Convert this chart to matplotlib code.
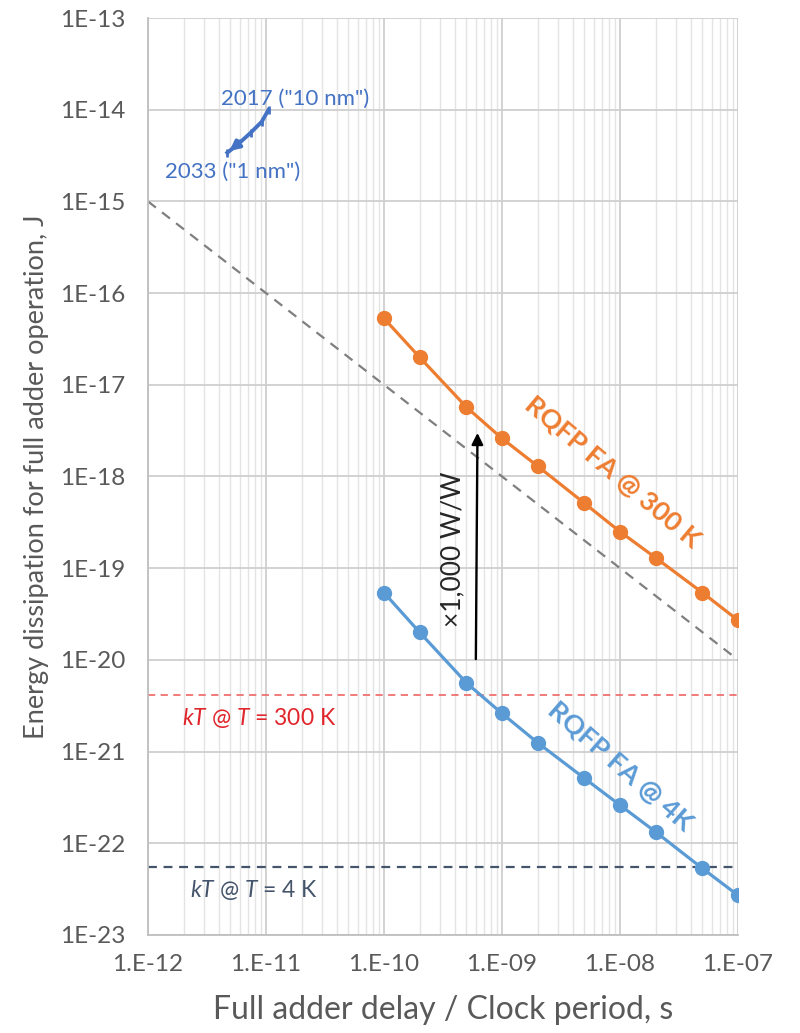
import numpy as np
import matplotlib.pyplot as plt
from matplotlib.ticker import LogLocator, FixedLocator

plt.rcParams['font.family'] = ['Lato', 'DejaVu Sans']
plt.rcParams['mathtext.fontset'] = 'custom'
plt.rcParams['mathtext.rm'] = 'Lato'
plt.rcParams['mathtext.it'] = 'Lato:italic'

# full adder delay / clock period (s)
delay = [1e-10, 2e-10, 5e-10, 1e-9, 2e-9, 5e-9, 1e-8, 2e-8, 5e-8, 1e-7]
# energy per FA operation (J)
e_300k = [5.3e-17, 2.0e-17, 5.7e-18, 2.6e-18, 1.3e-18, 5.1e-19, 2.5e-19, 1.3e-19, 5.4e-20, 2.7e-20]
e_4k = [5.4e-20, 2.0e-20, 5.6e-21, 2.6e-21, 1.25e-21, 5.1e-22, 2.6e-22, 1.33e-22, 5.3e-23, 2.7e-23]

# CMOS roadmap 2017 -> 2033
cmos_t = [1.05e-11, 9.2e-12, 7.4e-12, 5.9e-12, 4.7e-12]
cmos_e = [1.0e-14, 7.4e-15, 5.6e-15, 4.3e-15, 3.4e-15]

# reference line E*t = 1e-27 J*s
ref_t = [1e-12, 1e-7]
ref_e = [1e-15, 1e-20]

kT_300 = 4.14e-21
kT_4 = 5.52e-23

xticks = [1e-12, 1e-11, 1e-10, 1e-9, 1e-8, 1e-7]
xlabels = ['1.E-12', '1.E-11', '1.E-10', '1.E-09', '1.E-08', '1.E-07']
yticks = [10.0 ** p for p in range(-23, -12)]
ylabels = ['1E%d' % p for p in range(-23, -12)]

orange = '#ED7D31'
blue = '#5B9BD5'
txt = '#595959'

fig = plt.figure(figsize=(8, 10.33), dpi=100)
ax = fig.add_axes([0.185, 0.095, 0.7375, 0.8875])
ax.set_xscale('log')
ax.set_yscale('log')
ax.set_xlim(1e-12, 1e-7)
ax.set_ylim(1e-23, 1e-13)

ax.xaxis.set_major_locator(FixedLocator(xticks))
ax.yaxis.set_major_locator(FixedLocator(yticks))
ax.set_xticklabels(xlabels)
ax.set_yticklabels(ylabels)
ax.xaxis.set_minor_locator(LogLocator(base=10, subs=np.arange(2, 10)))
ax.yaxis.set_minor_locator(LogLocator(base=10, subs=np.arange(2, 10)))
ax.grid(which='major', color='#CFCFCF', lw=1.3)
ax.grid(which='minor', color='#E4E4E4', lw=1.0)
ax.set_axisbelow(True)
ax.tick_params(which='both', length=0, labelsize=17.5, colors=txt)
ax.tick_params(axis='y', pad=16)
ax.tick_params(axis='x', pad=14)
for s in ax.spines.values():
    s.set_visible(False)
ax.spines['left'].set_visible(True)
ax.spines['bottom'].set_visible(True)
ax.spines['left'].set_color('#BFBFBF')
ax.spines['bottom'].set_color('#BFBFBF')
ax.spines['left'].set_linewidth(1.3)
ax.spines['bottom'].set_linewidth(1.3)

ax.set_xlabel('Full adder delay / Clock period, s', fontsize=23, color=txt, labelpad=14)
ax.set_ylabel('Energy dissipation for full adder operation, J', fontsize=19.5, color=txt, labelpad=8)

# reference lines
ax.plot(ref_t, ref_e, ls=(0, (4.5, 3.5)), color='#7F7F7F', lw=1.6)
ax.axhline(kT_300, ls=(0, (4, 3)), color='#F07070', lw=1.3)
ax.axhline(kT_4, ls=(0, (4, 3)), color='#44546A', lw=1.6)

# RQFP series
ax.plot(delay, e_300k, '-o', color=orange, lw=2.3, ms=10, zorder=5)
ax.plot(delay, e_4k, '-o', color=blue, lw=2.3, ms=10, zorder=5)

# CMOS roadmap
ax.plot(cmos_t, cmos_e, '-', color='#4472C4', lw=2.8, marker='|', ms=6, mew=2)
ax.annotate('', xy=(cmos_t[-1], cmos_e[-1]), xytext=(cmos_t[-2], cmos_e[-2]),
            arrowprops=dict(arrowstyle='-|>', color='#4472C4', lw=2.8, mutation_scale=14))
ax.text(1.78e-11, 1.32e-14, '2017 ("10 nm")', color='#4472C4', fontsize=16, ha='center', va='center')
ax.text(1.38e-12, 2.1e-15, '2033 ("1 nm")', color='#4472C4', fontsize=16, ha='left', va='center')

# x1000 arrow
ax.annotate('', xy=(6.2e-10, 3.2e-18), xytext=(6.0e-10, 9.5e-21),
            arrowprops=dict(arrowstyle='-|>', color='black', lw=1.7, mutation_scale=17))
ax.text(3.8e-10, 1.6e-19, '\u00d71,000 W/W', rotation=90, fontsize=19, color='#262626',
        ha='center', va='center')

# series labels
ax.text(8.7e-9, 1.12e-18, 'RQFP FA @ 300 K', rotation=-40, color=orange, fontsize=19.5,
        fontweight='bold', ha='center', va='center', rotation_mode='anchor')
ax.text(1.0e-8, 7.0e-22, 'RQFP FA @ 4K', rotation=-41, color=blue, fontsize=19.5,
        fontweight='bold', ha='center', va='center', rotation_mode='anchor')

ax.text(1.94e-12, 2.3e-21, r'$\it{kT}$ @ $\it{T}$ = 300 K', color='#E0252B', fontsize=16.5,
        ha='left', va='center')
ax.text(2.27e-12, 3.1e-23, r'$\it{kT}$ @ $\it{T}$ = 4 K', color='#44546A', fontsize=16.5,
        ha='left', va='center')

fig.savefig('out.png', dpi=100)
